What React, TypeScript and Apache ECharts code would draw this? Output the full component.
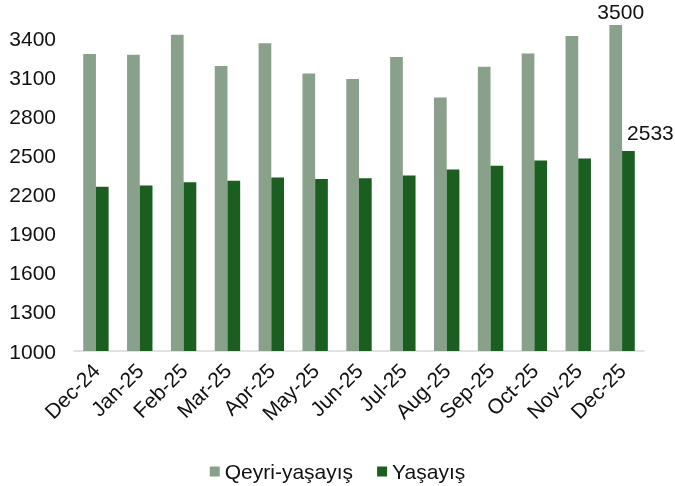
import React, { useEffect, useRef } from "react";
import * as echarts from "echarts";

const categories = ["Dec-24", "Jan-25", "Feb-25", "Mar-25", "Apr-25", "May-25", "Jun-25", "Jul-25", "Aug-25", "Sep-25", "Oct-25", "Nov-25", "Dec-25"];
const qeyriYasayis = [3277, 3272, 3425, 3185, 3361, 3128, 3087, 3254, 2944, 3180, 3282, 3415, 3500];
const yasayis = [2259, 2269, 2294, 2305, 2330, 2320, 2325, 2346, 2392, 2420, 2461, 2476, 2533];
const seriesNames = ["Qeyri-yaşayış", "Yaşayış"];

const FONT = "'Liberation Sans', Arial, sans-serif";
const lastIdx = categories.length - 1;

export default function App() {
  const ref = useRef<HTMLDivElement>(null);
  useEffect(() => {
    if (!ref.current) return;
    const chart = echarts.init(ref.current, null, { renderer: "svg" });
    chart.setOption({
      animation: false,
      textStyle: { fontFamily: FONT },
      grid: { left: 74, right: 31, top: 12, bottom: 135, containLabel: false },
      legend: {
        data: seriesNames,
        top: 456,
        left: "center",
        itemWidth: 10,
        itemHeight: 10,
        itemGap: 24,
        icon: "rect",
        textStyle: { fontSize: 21, color: "#111", fontFamily: FONT },
      },
      xAxis: {
        type: "category",
        data: categories,
        axisLine: { lineStyle: { color: "#d9d9d9", width: 1.5 } },
        axisTick: { show: false },
        axisLabel: { rotate: 45, fontSize: 21, color: "#111", margin: 16, interval: 0, fontFamily: FONT },
      },
      yAxis: {
        type: "value",
        min: 1000,
        max: 3600,
        interval: 300,
        splitLine: { show: false },
        axisLine: { show: false },
        axisTick: { show: false },
        axisLabel: {
          fontSize: 21,
          color: "#111",
          margin: 18,
          showMaxLabel: false,
          fontFamily: FONT,
          formatter: (v: number) => String(v),
        },
      },
      series: [
        {
          name: seriesNames[0],
          type: "bar",
          data: qeyriYasayis.map((v, i) =>
            i === lastIdx
              ? { value: v, label: { show: true, position: "top", offset: [5, 2], fontSize: 21, color: "#111", fontFamily: FONT } }
              : v
          ),
          itemStyle: { color: "#89A08A" },
          barWidth: 12.7,
          barGap: "0%",
        },
        {
          name: seriesNames[1],
          type: "bar",
          data: yasayis.map((v, i) =>
            i === lastIdx
              ? { value: v, label: { show: true, position: "top", offset: [22, -3], fontSize: 21, color: "#111", fontFamily: FONT } }
              : v
          ),
          itemStyle: { color: "#1A5E20" },
          barWidth: 12.7,
          barGap: "0%",
        },
      ],
    });
    return () => chart.dispose();
  }, []);
  return <div ref={ref} style={{ position: "fixed", left: 0, top: 0, width: 675, height: 486 }} />;
}
